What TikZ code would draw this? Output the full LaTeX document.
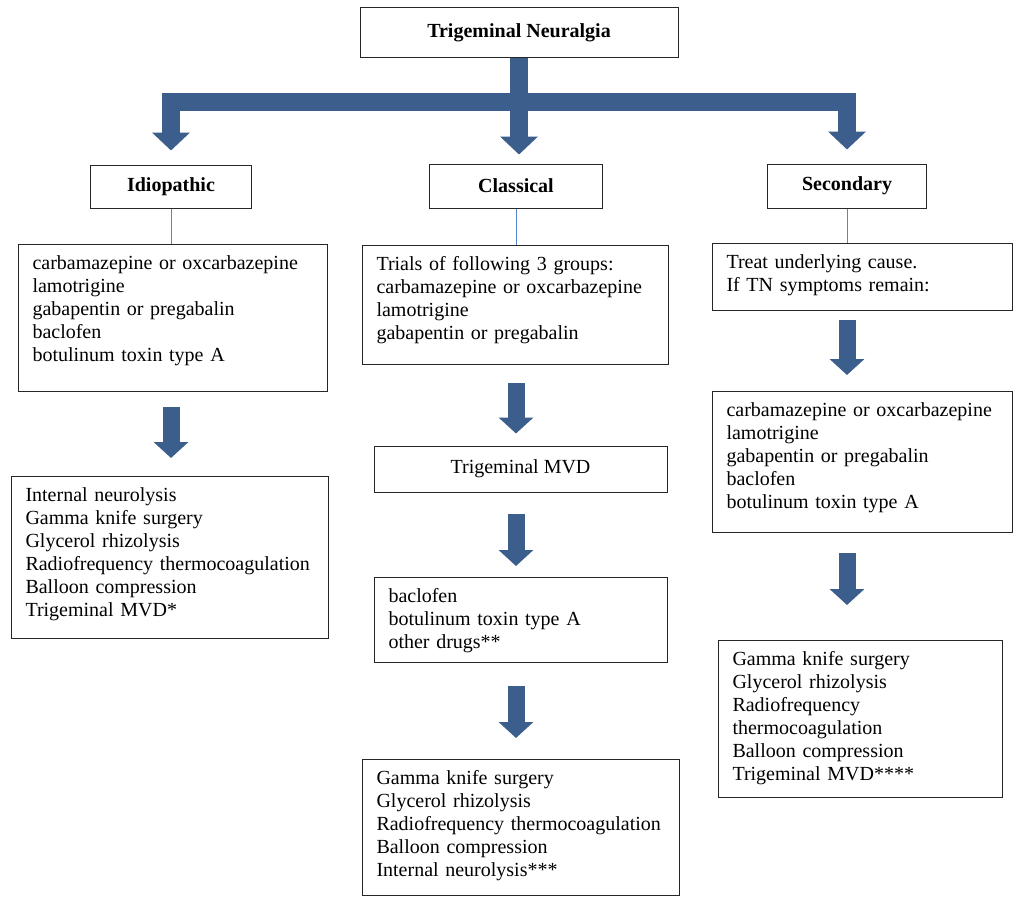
\documentclass[tikz,border=0pt]{standalone}
\usepackage{fontspec}
\setmainfont{Liberation Serif}
\usetikzlibrary{positioning,arrows.meta}
\definecolor{arrowblue}{RGB}{59,94,140}
\definecolor{linkblue}{RGB}{88,134,206}

\begin{document}
\begin{tikzpicture}[
  x=1pt, y=-1pt,
  hdr/.style={draw=black!85,line width=1pt,inner sep=0pt,align=center,font=\fontsize{20}{23}\selectfont\bfseries},
  lst/.style={draw=black!85,line width=1pt,anchor=north west,align=left,inner xsep=14pt,inner ysep=11pt,text height=14pt,font=\fontsize{20}{23}\selectfont},
  big/.style={draw=arrowblue,line width=18pt,line join=miter,-{Triangle[width=37pt,length=18pt]}},
  fat/.style={draw=arrowblue,line width=17pt,-{Triangle[width=34pt,length=16pt]}},
  link/.style={draw=linkblue,line width=0.8pt},
]
\useasboundingbox (0,0) rectangle (1023,907);

% top and the three kinds
\node[hdr,minimum width=318pt,minimum height=50pt] (tn)   at (519,33)    {Trigeminal Neuralgia};
\node[hdr,minimum width=161pt,minimum height=43pt] (idio) at (171,186.5) {Idiopathic};
\node[hdr,minimum width=173pt,minimum height=44pt] (clas) at (516,186)   {Classical};
\node[hdr,minimum width=159pt,minimum height=44pt] (sec)  at (847,186)   {Secondary};
\coordinate (bar) at (519,102);

% idiopathic column
\node[lst,text width=281pt,text depth=111pt] (i1) at (18,244) {carbamazepine or oxcarbazepine\\lamotrigine\\gabapentin or pregabalin\\baclofen\\botulinum toxin type A};
\node[lst,text width=289pt,text depth=126pt] (i2) at (11,476) {Internal neurolysis\\Gamma knife surgery\\Glycerol rhizolysis\\Radiofrequency thermocoagulation\\Balloon compression\\Trigeminal MVD*};

% classical column
\node[lst,text width=278pt,text depth=83pt] (c1) at (362,245) {Trials of following 3 groups:\\carbamazepine or oxcarbazepine\\lamotrigine\\gabapentin or pregabalin};
\node[hdr,font=\fontsize{20}{23}\selectfont,minimum width=293pt,minimum height=46pt] (c2) at (520.5,469) {Trigeminal MVD};
\node[lst,text width=265pt,text depth=49pt] (c3) at (374,577) {baclofen\\botulinum toxin type A\\other drugs**};
\node[lst,text width=289pt,text depth=100pt] (c4) at (362,759) {Gamma knife surgery\\Glycerol rhizolysis\\Radiofrequency thermocoagulation\\Balloon compression\\Internal neurolysis***};

% secondary column
\node[lst,text width=272pt,text depth=31pt] (s1) at (712,243) {Treat underlying cause.\\If TN symptoms remain:};
\node[lst,text width=272pt,text depth=105pt] (s2) at (712,391) {carbamazepine or oxcarbazepine\\lamotrigine\\gabapentin or pregabalin\\baclofen\\botulinum toxin type A};
\node[lst,text width=256pt,text depth=121pt] (s3) at (718,640) {Gamma knife surgery\\Glycerol rhizolysis\\Radiofrequency\\thermocoagulation\\Balloon compression\\Trigeminal MVD****};

% branching arrow
\draw[big,shorten >=9pt] (tn.south) -- (tn.south |- clas.north);
\draw[big,shorten >=14pt] (bar) -| (idio.north);
\draw[big,shorten >=14pt] (bar) -| (sec.north);

% thin links
\draw[link] (idio.south) -- (idio.south |- i1.north);
\draw[link] (clas.south) -- (clas.south |- c1.north);
\draw[link] (sec.south)  -- (sec.south |- s1.north);

% step arrows
\draw[fat,shorten <=15pt,shorten >=18pt] (idio.south |- i1.south) -- (idio.south |- i2.north);
\draw[fat,shorten <=18pt,shorten >=12pt] (clas.south |- c1.south) -- (clas.south |- c2.north);
\draw[fat,shorten <=21pt,shorten >=11pt] (clas.south |- c2.south) -- (clas.south |- c3.north);
\draw[fat,shorten <=23pt,shorten >=21pt] (clas.south |- c3.south) -- (clas.south |- c4.north);
\draw[fat,shorten <=9pt,shorten >=16pt]  (sec.south |- s1.south)  -- (sec.south |- s2.north);
\draw[fat,shorten <=20pt,shorten >=35pt] (sec.south |- s2.south)  -- (sec.south |- s3.north);
\end{tikzpicture}
\end{document}
